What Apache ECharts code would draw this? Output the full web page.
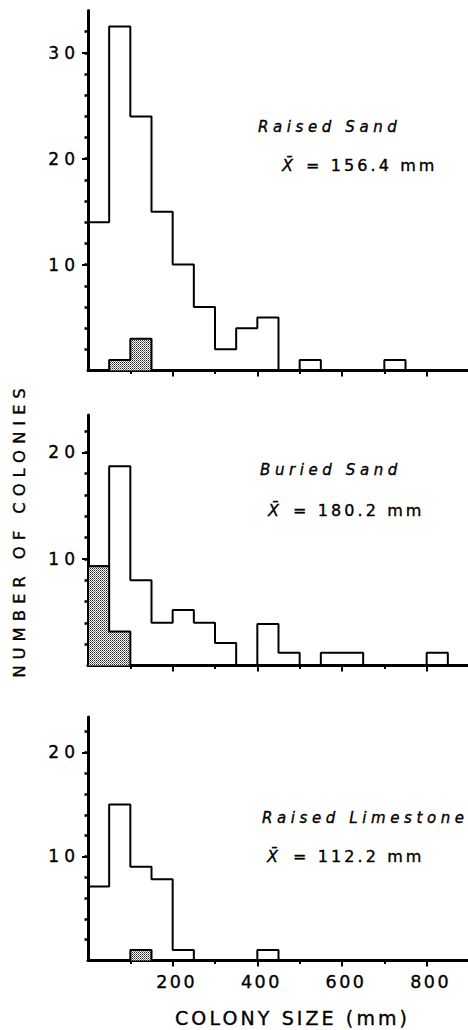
<!DOCTYPE html>
<html>
<head>
<meta charset="utf-8">
<script src="https://cdn.jsdelivr.net/npm/echarts@6/dist/echarts.min.js"></script>
<style>
html,body{margin:0;padding:0;background:#fff;}
#c{width:468px;height:1030px;}
#c text{stroke:#000;stroke-width:0.35px;}
#c text[style*="15px"]{letter-spacing:4.6px;}
#c text[style*="16px"]{letter-spacing:3.1px;}
#c text[style*="17px"]{letter-spacing:5px;}
#c text[style*="17.5px"]{letter-spacing:2.5px;}
#c text[style*="16.5px"]{letter-spacing:5.9px;}
#c text[style*="19px"]{letter-spacing:3.1px;}
</style>
</head>
<body>
<div id="c"></div>
<script>
// ---- data ----
const binStarts = [0, 50, 100, 150, 200, 250, 300, 350, 400, 450, 500, 550, 600, 650, 700, 750, 800, 850];
const binWidth = 50;

const raisedSandAll           = [14, 32.5, 24, 15, 10, 6, 2, 4, 5, 0, 1, 0, 0, 0, 1, 0, 0, 0];
const raisedSandStippled      = [0, 1, 3, 0, 0, 0, 0, 0, 0, 0, 0, 0, 0, 0, 0, 0, 0, 0];
const buriedSandAll           = [9.3, 18.7, 8, 4, 5.2, 4, 2.1, 0, 3.9, 1.2, 0, 1.2, 1.2, 0, 0, 0, 1.2, 0];
const buriedSandStippled      = [9.3, 3.2, 0, 0, 0, 0, 0, 0, 0, 0, 0, 0, 0, 0, 0, 0, 0, 0];
const raisedLimestoneAll      = [7.1, 15, 9, 7.8, 1, 0, 0, 0, 1, 0, 0, 0, 0, 0, 0, 0, 0, 0];
const raisedLimestoneStippled = [0, 0, 1, 0, 0, 0, 0, 0, 0, 0, 0, 0, 0, 0, 0, 0, 0, 0];

const panelNames = ['Raised Sand', 'Buried Sand', 'Raised Limestone'];
const panelMeans = ['= 156.4 mm', '= 180.2 mm', '= 112.2 mm'];
const meanSymbol = 'X\u0304';

const xTicksMajor = [200, 400, 600, 800];
const xTicksMinor = [100, 300, 500, 700];
const xTickLabels = [200, 400, 600, 800];
const yLabels1 = [10, 20, 30];
const yLabels23 = [10, 20];
const yMinor1 = [2, 4, 6, 8, 10, 12, 14, 16, 18, 20, 22, 24, 26, 28, 30, 32];
const yMinor23 = [2, 4, 6, 8, 10, 12, 14, 16, 18, 20, 22];

const xTitle = 'COLONY SIZE (mm)';
const yTitle = 'NUMBER OF COLONIES';

// ---- helpers ----
function stepData(counts) {
  const d = [[binStarts[0], 0]];
  counts.forEach((v, i) => d.push([binStarts[i], v]));
  d.push([binStarts[binStarts.length - 1] + binWidth, 0]);
  return d;
}

const pc = document.createElement('canvas');
pc.width = 2; pc.height = 2;
const g = pc.getContext('2d');
g.fillStyle = '#ffffff'; g.fillRect(0, 0, 2, 2);
g.fillStyle = '#222222'; g.fillRect(0, 0, 1, 1);
g.fillStyle = '#777777'; g.fillRect(1, 1, 1, 1);

const FONT = '"DejaVu Sans"';
const panels = [
  { all: raisedSandAll, stip: raisedSandStippled, top: 10.5, height: 360, max: 34, yLab: yLabels1, yMin: yMinor1 },
  { all: buriedSandAll, stip: buriedSandStippled, top: 415, height: 250.5, max: 23.5, yLab: yLabels23, yMin: yMinor23 },
  { all: raisedLimestoneAll, stip: raisedLimestoneStippled, top: 717, height: 243.5, max: 23.4, yLab: yLabels23, yMin: yMinor23 }
];

const grid = [], xAxis = [], yAxis = [], series = [];
panels.forEach((p, i) => {
  grid.push({ left: 88, width: 381, top: p.top, height: p.height, outerBoundsMode: 'none', containLabel: false });
  xAxis.push({
    type: 'value', gridIndex: i, min: 0, max: 900, position: 'bottom', interval: 100,
    axisLine: { show: true, onZero: false, lineStyle: { color: '#000', width: 3 } },
    axisTick: { show: true, customValues: xTicksMajor, length: 6, lineStyle: { color: '#000', width: 2 } },
    axisLabel: { show: i === 2, customValues: xTickLabels, color: '#000', fontSize: 17.5, fontFamily: 'DejaVu Sans', margin: 12, padding: [0, 0, 0, 8] },
    splitLine: { show: false }
  });
  xAxis.push({
    type: 'value', gridIndex: i, min: 0, max: 900, position: 'bottom', offset: 0, interval: 100,
    axisLine: { show: false },
    axisTick: { show: true, customValues: xTicksMinor, length: 3.5, lineStyle: { color: '#000', width: 2 } },
    axisLabel: { show: false },
    splitLine: { show: false }
  });
  yAxis.push({
    type: 'value', gridIndex: i, min: 0, max: p.max, position: 'left', interval: 2,
    axisLine: { show: true, onZero: false, lineStyle: { color: '#000', width: 3 } },
    axisTick: { show: true, customValues: p.yMin, length: 3.5, lineStyle: { color: '#000', width: 2.5 } },
    axisLabel: { show: true, customValues: p.yLab, color: '#000', fontSize: 17, fontFamily: 'DejaVu Sans', margin: 8,
      formatter: v => (v % 10 === 0 && v > 0 ? String(v) : '') },
    splitLine: { show: false }
  });
  yAxis.push({
    type: 'value', gridIndex: i, min: 0, max: p.max, position: 'left', offset: 0, interval: 10,
    axisLine: { show: false },
    axisTick: { show: true, customValues: p.yLab, length: 6, lineStyle: { color: '#000', width: 2 } },
    axisLabel: { show: false },
    splitLine: { show: false }
  });
  series.push({
    type: 'line', xAxisIndex: 2 * i, yAxisIndex: 2 * i, step: 'end', data: stepData(p.all),
    symbol: 'none', silent: true, clip: false, z: 3,
    lineStyle: { color: '#000', width: 2 }
  });
  series.push({
    type: 'line', xAxisIndex: 2 * i, yAxisIndex: 2 * i, step: 'end', data: stepData(p.stip),
    symbol: 'none', silent: true, clip: false, z: 4,
    lineStyle: { color: '#000', width: 2 },
    areaStyle: { color: { image: pc, repeat: 'repeat' }, opacity: 1, origin: 0 }
  });
});

const ann = [
  { nx: 258, ny: 126.5, mx: 282, ex: 306, my: 165 },
  { nx: 260, ny: 470, mx: 268, ex: 293, my: 510 },
  { nx: 262, ny: 818, mx: 267, ex: 293, my: 856 }
];
const graphic = [];
ann.forEach((a, i) => {
  graphic.push({ type: 'text', x: a.nx, y: a.ny, silent: true,
    style: { text: panelNames[i], font: 'italic 15px ' + FONT, fill: '#000', align: 'left', verticalAlign: 'middle' } });
  graphic.push({ type: 'text', x: a.mx, y: a.my, silent: true,
    style: { text: meanSymbol, font: 'italic 16px ' + FONT, fill: '#000', align: 'left', verticalAlign: 'middle' } });
  graphic.push({ type: 'text', x: a.ex, y: a.my, silent: true,
    style: { text: panelMeans[i], font: '16px ' + FONT, fill: '#000', align: 'left', verticalAlign: 'middle' } });
});
graphic.push({ type: 'text', x: 175, y: 1018, silent: true,
  style: { text: xTitle, font: '19px ' + FONT, fill: '#000', align: 'left', verticalAlign: 'middle' } });
graphic.push({ type: 'text', x: 19, y: 530, rotation: Math.PI / 2, silent: true,
  style: { text: yTitle, font: '16.5px ' + FONT, fill: '#000', align: 'center', verticalAlign: 'middle' } });

const chart = echarts.init(document.getElementById('c'), null, { renderer: 'svg', width: 468, height: 1030 });
chart.setOption({
  animation: false,
  backgroundColor: '#fff',
  grid, xAxis, yAxis, series, graphic
});
</script>
</body>
</html>
